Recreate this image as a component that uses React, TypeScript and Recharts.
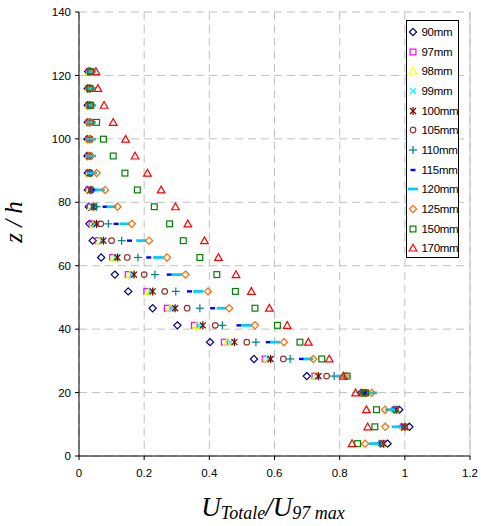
import { ScatterChart, Scatter, XAxis, YAxis, CartesianGrid, Legend, Label, ReferenceLine } from "recharts";

// z/h levels (rows of measurement points), bottom to top
const zRows = [3.9, 9.2, 14.6, 19.9, 25.2, 30.6, 35.9, 41.2, 46.6, 51.9, 57.2, 62.6, 67.9, 73.2, 78.6, 83.9, 89.2, 94.6, 99.9, 105.2, 110.6, 115.9, 121.2];

// U/U97max for each height
const u90 = [0.947, 1.014, 0.983, 0.866, 0.699, 0.537, 0.402, 0.302, 0.226, 0.151, 0.110, 0.068, 0.042, 0.032, 0.030, 0.027, 0.027, 0.026, 0.026, 0.027, 0.027, 0.027, 0.028];
const u97 = [0.930, 0.995, 0.970, 0.875, 0.724, 0.571, 0.446, 0.354, 0.271, 0.208, 0.151, 0.103, 0.059, 0.040, 0.035, 0.030, 0.030, 0.030, 0.030, 0.030, 0.030, 0.030, 0.031];
const u98 = [0.932, 0.997, 0.972, 0.877, 0.728, 0.578, 0.455, 0.362, 0.280, 0.214, 0.157, 0.108, 0.064, 0.045, 0.038, 0.032, 0.032, 0.031, 0.031, 0.031, 0.031, 0.031, 0.032];
const u99 = [0.934, 0.999, 0.974, 0.879, 0.732, 0.583, 0.465, 0.370, 0.287, 0.220, 0.163, 0.113, 0.070, 0.050, 0.042, 0.034, 0.033, 0.033, 0.033, 0.033, 0.033, 0.033, 0.034];
const u100 = [0.935, 1.000, 0.975, 0.880, 0.735, 0.588, 0.477, 0.380, 0.295, 0.226, 0.169, 0.118, 0.075, 0.054, 0.045, 0.035, 0.032, 0.032, 0.032, 0.032, 0.032, 0.032, 0.033];
const u105 = [0.928, 1.000, 0.970, 0.872, 0.760, 0.627, 0.515, 0.418, 0.332, 0.263, 0.200, 0.148, 0.100, 0.067, 0.047, 0.038, 0.035, 0.034, 0.034, 0.034, 0.034, 0.034, 0.035];
const u110 = [0.925, 0.990, 0.968, 0.870, 0.783, 0.648, 0.543, 0.440, 0.371, 0.297, 0.233, 0.181, 0.131, 0.090, 0.054, 0.040, 0.036, 0.035, 0.035, 0.035, 0.035, 0.035, 0.036];
const u115 = [0.917, 0.985, 0.965, 0.875, 0.799, 0.683, 0.581, 0.491, 0.410, 0.339, 0.277, 0.214, 0.155, 0.114, 0.080, 0.049, 0.037, 0.035, 0.035, 0.035, 0.035, 0.035, 0.036];
const u120 = [0.905, 0.975, 0.955, 0.900, 0.806, 0.704, 0.602, 0.515, 0.438, 0.366, 0.300, 0.243, 0.191, 0.140, 0.100, 0.064, 0.040, 0.037, 0.037, 0.037, 0.037, 0.037, 0.038];
const u125 = [0.878, 0.940, 0.939, 0.898, 0.818, 0.719, 0.629, 0.540, 0.461, 0.396, 0.327, 0.270, 0.215, 0.162, 0.118, 0.080, 0.054, 0.035, 0.033, 0.033, 0.033, 0.033, 0.034];
const u150 = [0.855, 0.908, 0.913, 0.879, 0.823, 0.745, 0.678, 0.609, 0.540, 0.480, 0.423, 0.371, 0.320, 0.278, 0.231, 0.179, 0.141, 0.105, 0.075, 0.054, 0.036, 0.034, 0.036];
const u170 = [0.838, 0.886, 0.882, 0.849, 0.811, 0.768, 0.704, 0.639, 0.584, 0.529, 0.482, 0.428, 0.385, 0.334, 0.296, 0.252, 0.210, 0.172, 0.143, 0.105, 0.077, 0.058, 0.052];

const seriesNames = ["90mm", "97mm", "98mm", "99mm", "100mm", "105mm", "110mm", "115mm", "120mm", "125mm", "150mm", "170mm"];
const seriesValues = [u90, u97, u98, u99, u100, u105, u110, u115, u120, u125, u150, u170];
const seriesColors = ["#000080", "#FF00FF", "#FFFF00", "#00FFFF", "#800000", "#993333", "#008080", "#0000FF", "#00CCFF", "#FF6600", "#008000", "#FF0000"];
const seriesMarkers = ["diamond", "square", "triangle", "cross", "star", "circle", "plus", "dashShort", "dashLong", "diamond", "square", "triangle"];

const xTicks = [0, 0.2, 0.4, 0.6, 0.8, 1, 1.2];
const yTicks = [0, 20, 40, 60, 80, 100, 120, 140];

function Marker({ kind, color, cx, cy }: { kind: string; color: string; cx: number; cy: number }) {
  const sw = 1.2;
  switch (kind) {
    case "diamond":
      return <path d={`M${cx},${cy - 3.6}L${cx + 3.6},${cy}L${cx},${cy + 3.6}L${cx - 3.6},${cy}Z`} fill="none" stroke={color} strokeWidth={sw} />;
    case "square":
      return <rect x={cx - 2.9} y={cy - 2.9} width={5.8} height={5.8} fill="none" stroke={color} strokeWidth={sw} />;
    case "triangle":
      return <path d={`M${cx},${cy - 3.8}L${cx + 3.8},${cy + 3}L${cx - 3.8},${cy + 3}Z`} fill="none" stroke={color} strokeWidth={sw} />;
    case "cross":
      return (
        <g stroke={color} strokeWidth={sw}>
          <line x1={cx - 3} y1={cy - 3} x2={cx + 3} y2={cy + 3} />
          <line x1={cx - 3} y1={cy + 3} x2={cx + 3} y2={cy - 3} />
        </g>
      );
    case "star":
      return (
        <g stroke={color} strokeWidth={sw}>
          <line x1={cx - 3} y1={cy - 3} x2={cx + 3} y2={cy + 3} />
          <line x1={cx - 3} y1={cy + 3} x2={cx + 3} y2={cy - 3} />
          <line x1={cx} y1={cy - 4} x2={cx} y2={cy + 4} />
        </g>
      );
    case "circle":
      return <circle cx={cx} cy={cy} r={2.8} fill="none" stroke={color} strokeWidth={sw} />;
    case "plus":
      return (
        <g stroke={color} strokeWidth={sw}>
          <line x1={cx - 4} y1={cy} x2={cx + 4} y2={cy} />
          <line x1={cx} y1={cy - 4} x2={cx} y2={cy + 4} />
        </g>
      );
    case "dashShort":
      return <rect x={cx - 2.5} y={cy - 1.2} width={5} height={2.4} fill={color} />;
    case "dashLong":
      return <rect x={cx - 5} y={cy - 1.4} width={10} height={2.8} fill={color} />;
    default:
      return null;
  }
}

function LegendBox() {
  return (
    <div
      style={{
        width: 51,
        height: 236,
        border: "1px solid #000",
        background: "#fff",
        fontFamily: "Arial, 'Liberation Sans', sans-serif",
        fontSize: 11.5,
        overflow: "hidden",
      }}
    >
      {seriesNames.map((name, i) => (
        <div key={name} style={{ height: 19.7, display: "flex", alignItems: "center", whiteSpace: "nowrap", marginTop: i === 0 ? 1 : 0 }}>
          <svg width={13} height={12} style={{ marginLeft: 0, flex: "none" }}>
            <Marker kind={seriesMarkers[i]} color={seriesColors[i]} cx={6} cy={6} />
          </svg>
          <span style={{ marginLeft: 1.5, letterSpacing: -0.3 }}>{name}</span>
        </div>
      ))}
    </div>
  );
}

export default function App() {
  const series = seriesNames.map((name, i) => ({
    name,
    color: seriesColors[i],
    marker: seriesMarkers[i],
    data: seriesValues[i].map((u, k) => ({ x: u, z: zRows[k] })),
  }));

  return (
    <div style={{ position: "absolute", left: 0, top: 0, width: 481, height: 526, background: "#fff" }}>
      <ScatterChart width={481} height={526} margin={{ top: 12, right: 11, bottom: 0, left: 0 }}>
        <CartesianGrid stroke="#C0C0C0" strokeDasharray="8 5" />
        <XAxis
          type="number"
          dataKey="x"
          domain={[0, 1.2]}
          ticks={xTicks}
          height={70}
          stroke="#000"
          tickSize={4}
          tickMargin={9}
          tick={{ fill: "#000", fontSize: 11.5, fontFamily: "Arial, 'Liberation Sans', sans-serif" }}
        >
          <Label
            content={() => (
              <text x={273} y={516} textAnchor="middle" fontFamily="'Times New Roman', 'Liberation Serif', serif" fontStyle="italic" fill="#000">
                <tspan fontSize={27}>U</tspan>
                <tspan fontSize={18} dy={3}>Totale</tspan>
                <tspan fontSize={27} dy={-3}>/U</tspan>
                <tspan fontSize={18} dy={3}>97 max</tspan>
              </text>
            )}
          />
        </XAxis>
        <YAxis
          type="number"
          dataKey="z"
          domain={[0, 140]}
          ticks={yTicks}
          width={79}
          stroke="#000"
          tickSize={4}
          tickMargin={4}
          tick={{ fill: "#000", fontSize: 11.5, fontFamily: "Arial, 'Liberation Sans', sans-serif" }}
        >
          <Label
            content={() => (
              <text
                x={22}
                y={222}
                transform="rotate(-90 22 222)"
                textAnchor="middle"
                fontFamily="'Times New Roman', 'Liberation Serif', serif"
                fontStyle="italic"
                fontSize={25}
                fill="#000"
              >
                z / h
              </text>
            )}
          />
        </YAxis>
        <ReferenceLine x={1.2} stroke="#C0C0C0" />
        <Legend
          layout="vertical"
          align="center"
          verticalAlign="middle"
          wrapperStyle={{ left: 406, top: 20, width: 53 }}
          content={() => <LegendBox />}
        />
        {series.map((s) => (
          <Scatter
            key={s.name}
            name={s.name}
            data={s.data}
            fill={s.color}
            isAnimationActive={false}
            shape={(p: any) => <Marker kind={s.marker} color={s.color} cx={p.cx} cy={p.cy} />}
          />
        ))}
      </ScatterChart>
    </div>
  );
}
